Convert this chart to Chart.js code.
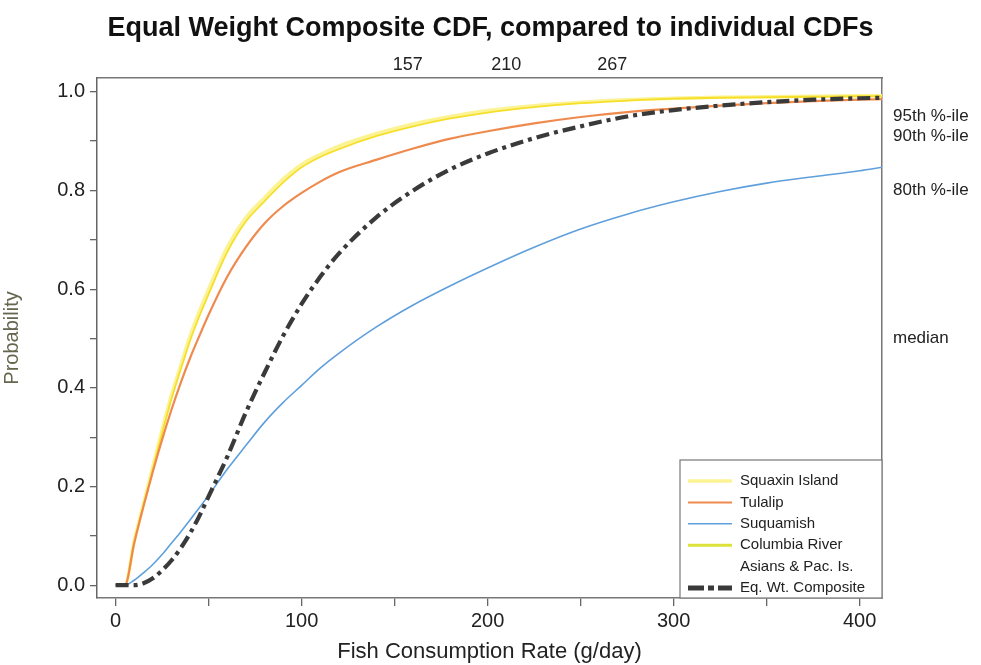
<!DOCTYPE html>
<html lang="en">
<head>
<meta charset="UTF-8">
<title>Equal Weight Composite CDF</title>
<script src="https://cdn.jsdelivr.net/npm/chart.js"></script>
<style>
  body { margin: 0; background: #fff; }
  #wrap { width: 981px; height: 665px; }
</style>
</head>
<body>
<div id="wrap"><canvas id="chart" width="981" height="665"></canvas></div>
<script>
// fish consumption rate (g/day) where the curves were read
const rates = [0, 5, 10, 15, 20, 25, 30, 35, 40, 45, 50, 60, 70, 80, 90, 100, 110, 120, 140, 160, 180, 200, 225, 250, 275, 300, 325, 350, 375, 400, 412];

const squaxin   = [0, 0, 0.09, 0.165, 0.24, 0.315, 0.385, 0.445, 0.505, 0.555, 0.60, 0.685, 0.745, 0.785, 0.823, 0.853, 0.873, 0.89, 0.915, 0.935, 0.95, 0.962, 0.972, 0.979, 0.984, 0.987, 0.989, 0.99, 0.991, 0.992, 0.992];
const tulalip   = [0, 0, 0.085, 0.16, 0.23, 0.295, 0.355, 0.41, 0.46, 0.505, 0.548, 0.625, 0.685, 0.733, 0.768, 0.795, 0.818, 0.837, 0.862, 0.885, 0.905, 0.92, 0.936, 0.949, 0.959, 0.966, 0.972, 0.977, 0.981, 0.984, 0.985];
const suquamish = [0, 0, 0.01, 0.025, 0.042, 0.062, 0.085, 0.108, 0.132, 0.157, 0.182, 0.235, 0.283, 0.33, 0.37, 0.405, 0.44, 0.47, 0.523, 0.568, 0.607, 0.643, 0.685, 0.722, 0.752, 0.777, 0.798, 0.815, 0.828, 0.84, 0.847];
const columbia  = [0, 0, 0.088, 0.162, 0.235, 0.308, 0.377, 0.437, 0.495, 0.545, 0.59, 0.675, 0.737, 0.778, 0.816, 0.847, 0.868, 0.884, 0.91, 0.93, 0.946, 0.958, 0.969, 0.977, 0.982, 0.986, 0.988, 0.989, 0.99, 0.991, 0.991];
const composite = [0, 0, 0, 0.004, 0.014, 0.03, 0.05, 0.075, 0.105, 0.14, 0.18, 0.26, 0.35, 0.43, 0.505, 0.57, 0.625, 0.672, 0.745, 0.80, 0.843, 0.875, 0.906, 0.93, 0.95, 0.963, 0.972, 0.979, 0.984, 0.987, 0.988];

const seriesNames = ['Squaxin Island', 'Tulalip', 'Suquamish', 'Columbia River\nAsians & Pac. Is.', 'Eq. Wt. Composite'];

const xTicks = [0, 50, 100, 150, 200, 250, 300, 350, 400];
const yTicks = [0, 0.1, 0.2, 0.3, 0.4, 0.5, 0.6, 0.7, 0.8, 0.9, 1.0];
const topTicks = [157, 210, 267];
const pctTicks = [0.95, 0.91, 0.8, 0.5];
const pctLabels = ['95th %-ile', '90th %-ile', '80th %-ile', 'median'];

const pts = ys => rates.map((x, i) => ({ x, y: ys[i] }));
const setTicks = vals => scale => { scale.ticks = vals.map(v => ({ value: v })); };

const FONT = '"Liberation Sans", Arial, sans-serif';

// legend in the lower right corner of the plot
const legendBox = {
  id: 'legendBox',
  afterDraw(chart) {
    const { ctx, chartArea: a } = chart;
    const w = 202, h = 138;
    const left = a.right - w, top = a.bottom - h;
    ctx.save();
    ctx.fillStyle = '#fff';
    ctx.fillRect(left, top, w, h);
    ctx.strokeStyle = '#777';
    ctx.lineWidth = 1.2;
    ctx.strokeRect(left, top, w, h);
    ctx.font = '15px ' + FONT;
    ctx.textBaseline = 'middle';
    ctx.fillStyle = '#222';
    let y = top + 21;
    chart.data.datasets.forEach(ds => {
      ctx.beginPath();
      ctx.strokeStyle = ds.legendColor || ds.borderColor;
      ctx.lineWidth = ds.legendWidth || ds.borderWidth;
      ctx.setLineDash(ds.legendDash || []);
      ctx.moveTo(left + 8, y);
      ctx.lineTo(left + 52, y);
      ctx.stroke();
      ctx.setLineDash([]);
      ds.label.split('\n').forEach(line => {
        ctx.fillText(line, left + 60, y);
        y += 21.4;
      });
    });
    ctx.restore();
  }
};

new Chart(document.getElementById('chart'), {
  type: 'line',
  data: {
    datasets: [
      { label: seriesNames[0], data: pts(squaxin), borderColor: '#fcf395', borderWidth: 3.5, order: 4, legendWidth: 3.5 },
      { label: seriesNames[1], data: pts(tulalip), borderColor: '#ef8a4e', borderWidth: 2.2, order: 2, legendWidth: 2 },
      { label: seriesNames[2], data: pts(suquamish), borderColor: '#5f9fdc', borderWidth: 1.6, order: 1, legendWidth: 1.5 },
      { label: seriesNames[3], data: pts(columbia), borderColor: '#f6df2a', borderWidth: 1.8, order: 3, legendColor: '#dde23a', legendWidth: 3 },
      { label: seriesNames[4], data: pts(composite), borderColor: '#3a3a3a', borderWidth: 4.2, borderDash: [13, 5, 4, 5], order: 0, legendWidth: 5, legendDash: [16, 4, 6, 4] }
    ]
  },
  options: {
    responsive: false,
    animation: false,
    layout: { padding: 0 },
    elements: {
      point: { radius: 0 },
      line: { fill: false, cubicInterpolationMode: 'monotone' }
    },
    plugins: {
      legend: { display: false },
      tooltip: { enabled: false },
      title: {
        display: true,
        text: 'Equal Weight Composite CDF, compared to individual CDFs',
        color: '#111',
        font: { family: FONT, size: 27, weight: 'bold' },
        padding: { top: 12, bottom: 4 }
      }
    },
    scales: {
      x: {
        type: 'linear', position: 'bottom', min: -10, max: 412,
        afterBuildTicks: setTicks(xTicks),
        afterFit: s => { s.height = 67; },
        ticks: {
          color: '#222', font: { family: FONT, size: 20 }, padding: 3, maxRotation: 0, autoSkip: false,
          callback: v => (v % 100 === 0 ? String(v) : '')
        },
        grid: { drawOnChartArea: false, drawTicks: true, tickLength: 8, color: '#666', lineWidth: 1.3 },
        border: { color: '#777', width: 1.5 },
        title: {
          display: true, text: 'Fish Consumption Rate (g/day)', color: '#222',
          font: { family: FONT, size: 22 }, padding: { top: 0, bottom: 0 }
        }
      },
      x2: {
        type: 'linear', position: 'top', min: -10, max: 412,
        afterBuildTicks: setTicks(topTicks),
        afterFit: s => { s.height = 29.6; },
        ticks: { color: '#222', font: { family: FONT, size: 18 }, padding: 2, maxRotation: 0, autoSkip: false },
        grid: { drawOnChartArea: false, drawTicks: false },
        border: { color: '#777', width: 1.5 }
      },
      y: {
        type: 'linear', position: 'left', min: -0.026, max: 1.028,
        afterBuildTicks: setTicks(yTicks),
        afterFit: s => { s.width = 97; },
        ticks: {
          color: '#222', font: { family: FONT, size: 20 }, padding: 5, autoSkip: false,
          callback: v => (Math.round(v * 10) % 2 === 0 ? v.toFixed(1) : '')
        },
        grid: { drawOnChartArea: false, drawTicks: true, tickLength: 7, color: '#666', lineWidth: 1.3 },
        border: { color: '#666', width: 1.5 },
        title: {
          display: true, text: 'Probability', color: '#66664f',
          font: { family: FONT, size: 20 }, padding: { top: 0, bottom: 10 }
        }
      },
      y2: {
        type: 'linear', position: 'right', min: -0.026, max: 1.028,
        afterBuildTicks: setTicks(pctTicks),
        afterFit: s => { s.width = 99; },
        ticks: {
          color: '#222', font: { family: FONT, size: 17 }, padding: 11, autoSkip: false,
          callback: v => pctLabels[pctTicks.indexOf(v)]
        },
        grid: { drawOnChartArea: false, drawTicks: false },
        border: { color: '#777', width: 1.5 }
      }
    }
  },
  plugins: [legendBox]
});
</script>
</body>
</html>
